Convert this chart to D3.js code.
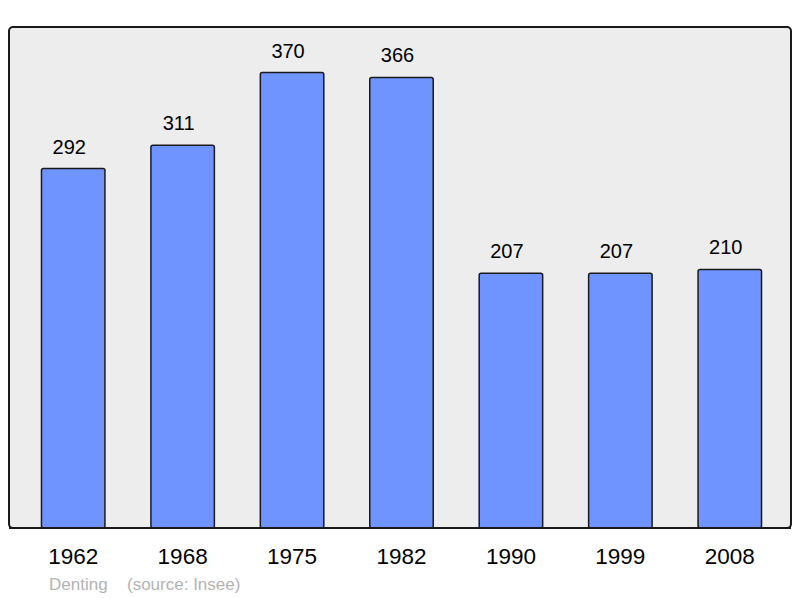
<!DOCTYPE html>
<html>
<head>
<meta charset="utf-8">
<script src="https://cdn.jsdelivr.net/npm/d3@7"></script>
<style>
  body { margin: 0; background: #fff; }
  text { font-family: "Liberation Sans", Arial, sans-serif; }
</style>
</head>
<body>
<script>
const years = ["1962", "1968", "1975", "1982", "1990", "1999", "2008"]
const population = [292, 311, 370, 366, 207, 207, 210]
const commune = "Denting"
const source = "(source: Insee)"

const width = 800
const height = 598

const svg = d3.select("body")
    .append("svg")
    .attr("width", width)
    .attr("height", height)

// plot frame
const frame = { x0: 9, x1: 791, y0: 27, y1: 528 }

svg.append("rect")
    .attr("x", frame.x0)
    .attr("y", frame.y0)
    .attr("width", frame.x1 - frame.x0)
    .attr("height", frame.y1 - frame.y0)
    .attr("rx", 4)
    .attr("fill", "#ededed")
    .attr("stroke", "#1a1a1a")
    .attr("stroke-width", 2)

const x = d3.scaleBand()
    .domain(years)
    .range([18.5, 784.5])
    .paddingInner(0.42)
    .paddingOuter(0.21)

const y = d3.scaleLinear()
    .domain([0, 407])
    .range([frame.y1, frame.y0])

const data = years.map((d, i) => ({ year: d, value: population[i] }))

svg.append("g")
    .selectAll("rect")
    .data(data)
    .join("rect")
    .attr("x", d => x(d.year))
    .attr("y", d => y(d.value))
    .attr("width", x.bandwidth())
    .attr("height", d => y(0) - y(d.value))
    .attr("rx", 2)
    .attr("fill", "#7094ff")
    .attr("stroke", "#1a1a1a")
    .attr("stroke-width", 1.5)

// value labels, sitting a little left of bar centre as in the original
svg.append("g")
    .selectAll("text")
    .data(data)
    .join("text")
    .attr("x", d => x(d.year) + x.bandwidth() / 2 - 4)
    .attr("y", d => y(d.value) - 15)
    .attr("text-anchor", "middle")
    .attr("font-size", 20)
    .attr("fill", "#000")
    .text(d => d.value)

// redraw bottom edge over bars
svg.append("line")
    .attr("x1", frame.x0)
    .attr("x2", frame.x1)
    .attr("y1", frame.y1)
    .attr("y2", frame.y1)
    .attr("stroke", "#1a1a1a")
    .attr("stroke-width", 2)

// year labels
svg.append("g")
    .selectAll("text")
    .data(years)
    .join("text")
    .attr("x", d => x(d) + x.bandwidth() / 2)
    .attr("y", 564)
    .attr("text-anchor", "middle")
    .attr("font-size", 22.5)
    .attr("fill", "#000")
    .text(d => d)

svg.append("text")
    .attr("x", 49)
    .attr("y", 590)
    .attr("font-size", 17)
    .attr("fill", "#b3b3b3")
    .text(commune)

svg.append("text")
    .attr("x", 127)
    .attr("y", 590)
    .attr("font-size", 17)
    .attr("fill", "#b3b3b3")
    .text(source)
</script>
</body>
</html>
